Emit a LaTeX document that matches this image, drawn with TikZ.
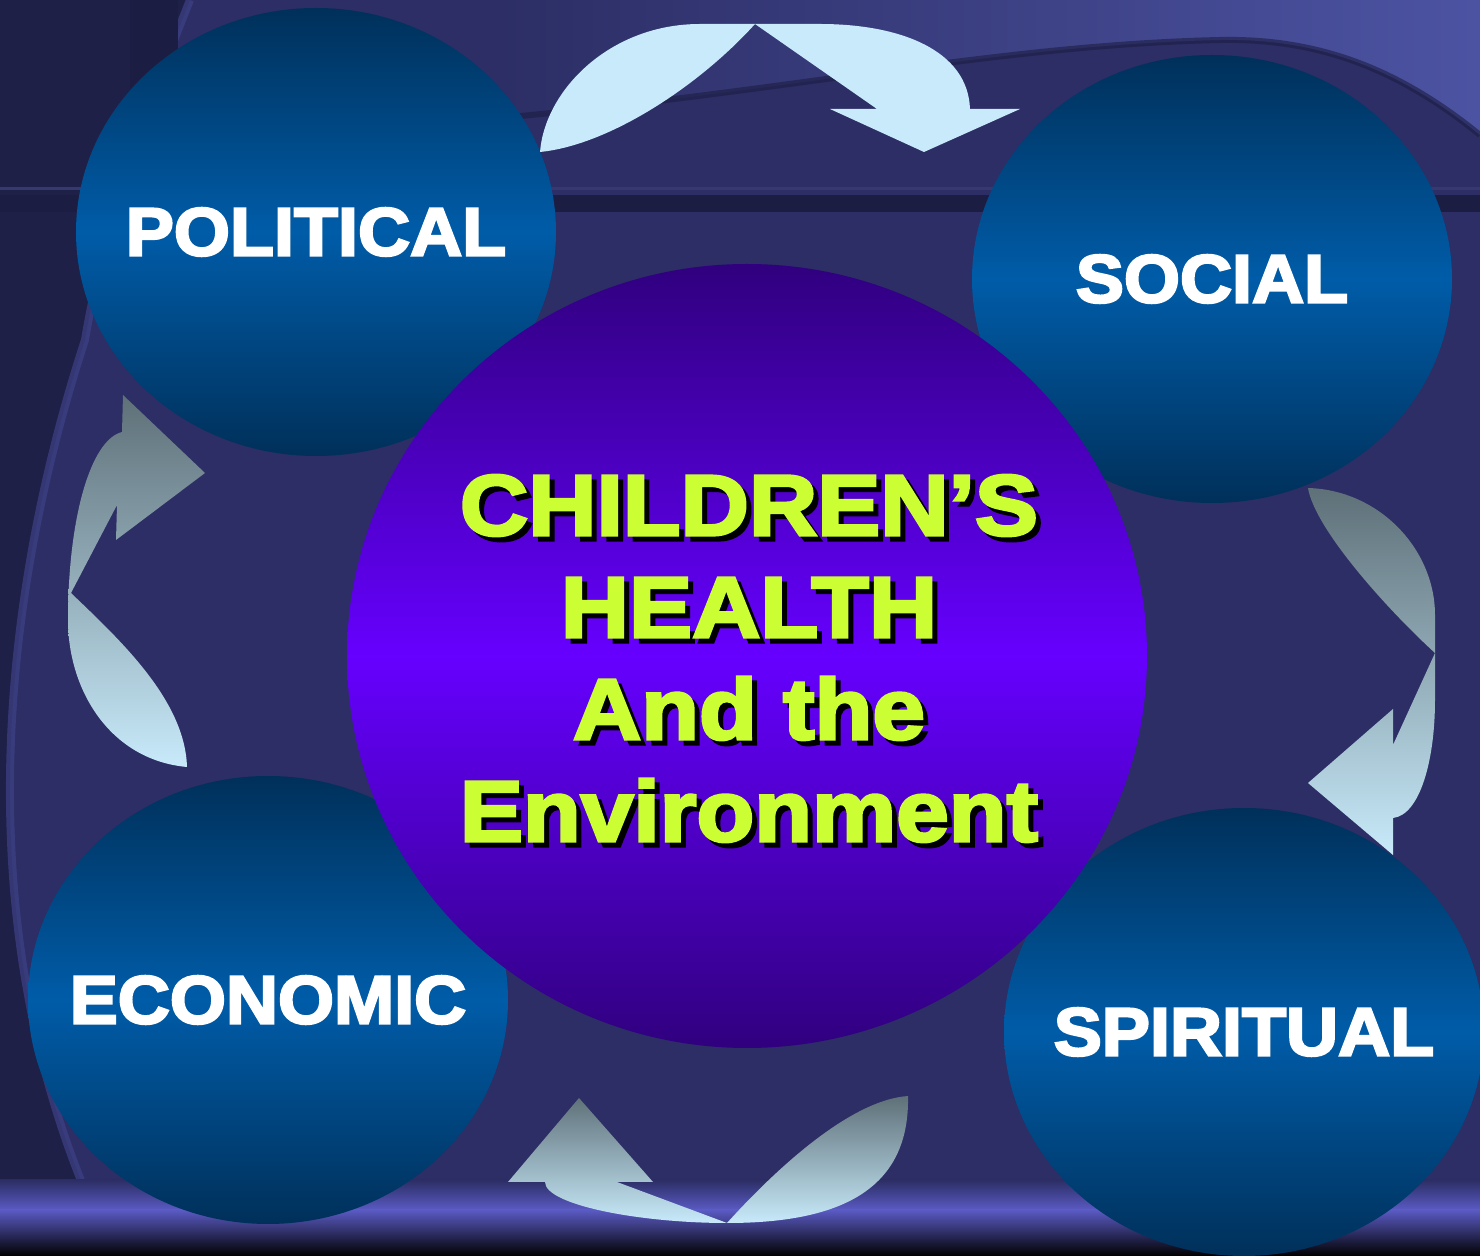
\documentclass[tikz,border=0pt]{standalone}
\usepackage{fontspec}
\usetikzlibrary{shapes.geometric}
\newfontfamily\heavyfont{Liberation Sans}[FakeStretch=1.06,BoldFeatures={FakeBold=3.5}]
\newfontfamily\titlefont{Liberation Sans}[FakeStretch=1.1,BoldFeatures={FakeBold=3.5}]
\definecolor{bgblue}{HTML}{2C2E65}
\definecolor{bgdark}{HTML}{1C1D42}
\definecolor{bgedge}{HTML}{1E2048}
\definecolor{bgrim}{HTML}{3E4286}
\definecolor{bgline}{HTML}{363970}
\definecolor{bglight}{HTML}{4C53A2}
\definecolor{bgbright}{HTML}{5A5AC4}
\definecolor{balldark}{HTML}{00305A}
\definecolor{ballmid}{HTML}{005CA8}
\definecolor{coredark}{HTML}{30007E}
\definecolor{coremid}{HTML}{6600FF}
\definecolor{titlegreen}{HTML}{CCFF33}
\definecolor{arrowgray}{HTML}{5E7078}
\definecolor{arrowlight}{HTML}{C8EAFA}
% 带阴影的文字
\newcommand\dropshade[1]{\rlap{\kern2.5pt\raisebox{-2.5pt}{\color{black}#1}}#1}
\tikzset{
  ball/.style={ellipse, minimum width=240pt, minimum height=224pt, inner sep=0pt,
    top color=balldark, bottom color=balldark, middle color=ballmid},
  balltext/.style={text=white, inner sep=0pt, font=\heavyfont\bfseries\fontsize{34}{40}\selectfont},
  core/.style={ellipse, minimum width=400pt, minimum height=392pt, inner sep=0pt,
    top color=coredark, bottom color=coredark, middle color=coremid},
  title/.style={align=center, inner sep=0pt, text=titlegreen,
    font=\titlefont\bfseries\fontsize{43}{51}\selectfont},
  curvearrow/.style={top color=arrowgray, bottom color=arrowlight},
}
\begin{document}
\begin{tikzpicture}[x=0.5pt,y=-0.5pt]
  % 背景
  \clip (0,0) rectangle (1480,1256);
  \fill[bgblue] (0,0) rectangle (1480,1256);
  \shade[left color=bgblue, right color=bglight] (500,0) -- (1480,0) -- (1480,135)
    .. controls (1400,70) and (1320,38) .. (1220,40)
    .. controls (1000,45) and (800,90) .. (500,118) -- cycle;
  \draw[bgdark, line width=3pt, opacity=.6] (500,118) .. controls (800,90) and (1000,45) .. (1220,40)
    .. controls (1320,38) and (1400,70) .. (1480,135);
  % 左侧边框
  \fill[bgedge] (0,0) -- (190,0) .. controls (130,150) and (100,250) .. (85,340)
    .. controls (0,600) and (-40,950) .. (115,1256) -- (0,1256) -- cycle;
  \draw[bgrim, line width=4pt, opacity=.7] (190,0) .. controls (130,150) and (100,250) .. (85,340)
    .. controls (0,600) and (-40,950) .. (115,1256);
  \fill[bgdark] (130,0) rectangle (178,95);
  % 横条
  \draw[bgline, line width=1.5pt] (0,189) -- (1480,189);
  \fill[bgdark] (0,195) rectangle (1480,212);
  % 底部
  \shade[top color=bgblue, bottom color=bgbright] (0,1180) rectangle (1480,1210);
  \shade[top color=bgbright, bottom color=black] (0,1210) rectangle (1480,1256);

  % 四个圆
  \node[ball] (political) at (316,232) {};
  \node[ball] (social) at (1212,279) {};
  \node[ball] (economic) at (268,1000) {};
  \node[ball] (spiritual) at (1244,1032) {};
  \node[balltext] (politicallabel) at (political) {POLITICAL};
  \node[balltext] (sociallabel) at (social) {SOCIAL};
  \node[balltext] (economiclabel) at (economic) {ECONOMIC};
  \node[balltext] (spirituallabel) at (spiritual) {SPIRITUAL};

  % 中心圆
  \node[core] (center) at (747,656) {};
  \node[title] (title) at (749,661)
    {\dropshade{CHILDREN’S}\\\dropshade{HEALTH}\\\dropshade{And the\hspace*{0.3em}}\\\dropshade{Environment}};

  % 箭头
  \fill[arrowlight] (540,152) .. controls (545,90) and (610,24) .. (700,24) -- (820,24)
    .. controls (900,24) and (968,50) .. (970,109) -- (1020,109) -- (924,152) -- (830,109)
    -- (877,109) -- (755,24) .. controls (700,85) and (610,145) .. (540,152) -- cycle;
  \shade[curvearrow] (1308,488) .. controls (1380,490) and (1435,550) .. (1435,615) -- (1435,700)
    .. controls (1435,760) and (1420,815) .. (1393,818) -- (1393,855) -- (1308,783) -- (1393,709)
    -- (1393,745) -- (1435,653) .. controls (1390,612) and (1315,530) .. (1308,488) -- cycle;
  \shade[curvearrow] (908,1096) .. controls (910,1190) and (840,1223) .. (727,1223)
    .. controls (640,1223) and (545,1205) .. (545,1182) -- (508,1182) -- (579,1098) -- (653,1182)
    -- (617,1182) -- (727,1223) .. controls (775,1170) and (850,1100) .. (908,1096) -- cycle;
  \shade[curvearrow] (187,767) .. controls (110,760) and (68,690) .. (68,620)
    .. controls (68,520) and (90,440) .. (122,432) -- (123,395) -- (205,473) -- (116,540)
    -- (117,505) -- (71,593) .. controls (120,640) and (185,700) .. (187,767) -- cycle;
\end{tikzpicture}
\end{document}
